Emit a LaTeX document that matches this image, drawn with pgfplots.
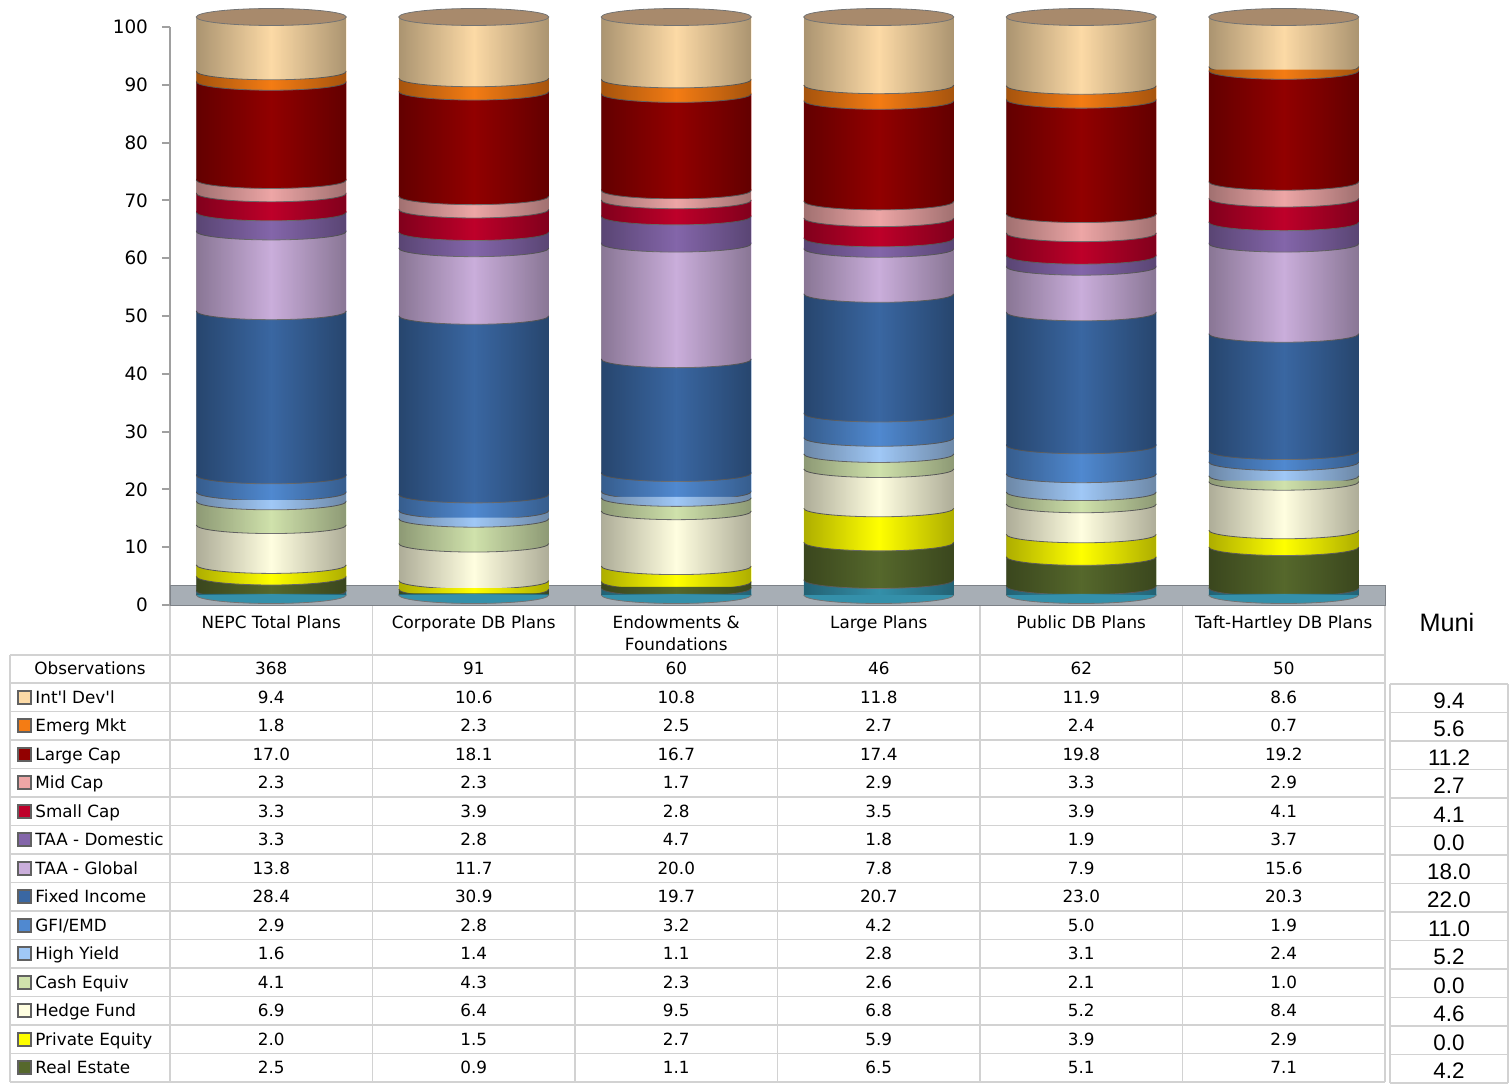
\documentclass[border=0pt]{standalone}
\usepackage{pgfplots}
\pgfplotsset{compat=1.18}
\usepackage{pgfplotstable}
\usetikzlibrary{fadings}
\usepackage{fontspec}
\setmainfont{DejaVu Sans}
\newfontfamily\arialfont{Liberation Sans}

\definecolor{cIntl}{HTML}{FCDAA6}
\definecolor{cEM}{HTML}{F47C14}
\definecolor{cLarge}{HTML}{920000}
\definecolor{cMid}{HTML}{EDA6A6}
\definecolor{cSmall}{HTML}{BE002A}
\definecolor{cTAAD}{HTML}{8466AA}
\definecolor{cTAAG}{HTML}{CAAEDB}
\definecolor{cFixed}{HTML}{3A67A2}
\definecolor{cGFI}{HTML}{5089D0}
\definecolor{cHY}{HTML}{A0C8F6}
\definecolor{cCash}{HTML}{D0E2AC}
\definecolor{cHedge}{HTML}{FFFEE0}
\definecolor{cPE}{HTML}{FFFF00}
\definecolor{cRE}{HTML}{56682C}
\definecolor{cOther}{HTML}{3490AA}
\definecolor{cCap}{HTML}{A88A6C}
\definecolor{floorgray}{HTML}{A7AEB5}
\definecolor{axisgray}{HTML}{A0A0A0}
\definecolor{gridc}{HTML}{D2D2D2}

\tikzfading[name=cylfade, left color=transparent!68, right color=transparent!68,
  middle color=transparent!100]

% lower half of an ellipse: filled slightly above its chord, only the arc stroked
\pgfdeclareplotmark{lowhalf}{%
  \pgfpathmoveto{\pgfqpoint{-\pgfplotmarksize}{5pt}}%
  \pgfpathlineto{\pgfqpoint{-\pgfplotmarksize}{0pt}}%
  \pgfpatharc{180}{360}{\pgfplotmarksize}%
  \pgfpathlineto{\pgfqpoint{\pgfplotmarksize}{5pt}}%
  \pgfpathclose
  \pgfusepathqfill
  \pgfpathmoveto{\pgfqpoint{-\pgfplotmarksize}{0pt}}%
  \pgfpatharc{180}{360}{\pgfplotmarksize}%
  \pgfusepathqstroke}

\pgfplotstableread{
x obs intl emerg large mid small taad taag fixed gfi hy cash hedge pe re other
0 368 9.4 1.8 17.0 2.3 3.3 3.3 13.8 28.4 2.9 1.6 4.1 6.9 2.0 2.5 0.7
1 91 10.6 2.3 18.1 2.3 3.9 2.8 11.7 30.9 2.8 1.4 4.3 6.4 1.5 0.9 0.1
2 60 10.8 2.5 16.7 1.7 2.8 4.7 20.0 19.7 3.2 1.1 2.3 9.5 2.7 1.1 1.2
3 46 11.8 2.7 17.4 2.9 3.5 1.8 7.8 20.7 4.2 2.8 2.6 6.8 5.9 6.5 2.6
4 62 11.9 2.4 19.8 3.3 3.9 1.9 7.9 23.0 5.0 3.1 2.1 5.2 3.9 5.1 1.5
5 50 8.6 0.7 19.2 2.9 4.1 3.7 15.6 20.3 1.9 2.4 1.0 8.4 2.9 7.1 1.2
}\datatable

\pgfplotsset{
  cyl/.style={draw=none, fill=#1},
  samebox/.style={anchor=south west, scale only axis,
    width=607.5pt, height=289pt, xmin=-0.5, xmax=5.5, ymin=0, ymax=100, clip=false},
  basebox/.style={samebox, at={(85pt,-302.5pt)}},
  cylbox/.style={samebox, at={(85pt,-297.5pt)}, hide axis},
  rimseg/.style={only marks, mark=lowhalf, mark size=37.5pt,
    mark options={yscale=0.113, fill=#1, draw=black!55, line width=0.4pt}},
  cap/.style={only marks, mark=*, mark size=37.5pt,
    mark options={yscale=0.113, fill=#1, draw=black!55, line width=0.4pt}},
}

\begin{document}
\begin{tikzpicture}
\path[use as bounding box] (0,0) rectangle (755pt,-543pt);

% background: y axis and floor
\begin{axis}[basebox,
  axis x line=none, axis y line*=left,
  y axis line style={draw=axisgray, line width=1pt},
  ytick={0,10,...,100},
  tick style={draw=axisgray, line width=1pt},
  tick align=outside, major tick length=4pt,
  yticklabel style={font=\fontsize{9.2}{11}\selectfont, text=black, xshift=-3.5pt},
  /pgf/number format/assume math mode=true]
\addplot[fill=floorgray, draw=floorgray!75!black, line width=0.5pt]
  coordinates {(-0.5,0) (5.5,0) (5.5,3.45) (-0.5,3.45)} -- cycle;
\end{axis}

% stacked cylinders
\begin{axis}[cylbox, ybar stacked, bar width=75pt]
\addplot[cyl=cOther] table[x=x,y=other]{\datatable};
\addplot[cyl=cRE]    table[x=x,y=re]{\datatable};
\addplot[cyl=cPE]    table[x=x,y=pe]{\datatable};
\addplot[cyl=cHedge] table[x=x,y=hedge]{\datatable};
\addplot[cyl=cCash]  table[x=x,y=cash]{\datatable};
\addplot[cyl=cHY]    table[x=x,y=hy]{\datatable};
\addplot[cyl=cGFI]   table[x=x,y=gfi]{\datatable};
\addplot[cyl=cFixed] table[x=x,y=fixed]{\datatable};
\addplot[cyl=cTAAG]  table[x=x,y=taag]{\datatable};
\addplot[cyl=cTAAD]  table[x=x,y=taad]{\datatable};
\addplot[cyl=cSmall] table[x=x,y=small]{\datatable};
\addplot[cyl=cMid]   table[x=x,y=mid]{\datatable};
\addplot[cyl=cLarge] table[x=x,y=large]{\datatable};
\addplot[cyl=cEM]    table[x=x,y=emerg]{\datatable};
\addplot[cyl=cIntl]  table[x=x,y=intl]{\datatable};
\end{axis}

% front rims of the segments (each at the base of its segment)
\begin{axis}[cylbox, stack plots=y]
\addplot[rimseg=cOther] table[x=x, y expr=0]{\datatable};
\addplot[rimseg=cRE]    table[x=x, y=other]{\datatable};
\addplot[rimseg=cPE]    table[x=x, y=re]{\datatable};
\addplot[rimseg=cHedge] table[x=x, y=pe]{\datatable};
\addplot[rimseg=cCash]  table[x=x, y=hedge]{\datatable};
\addplot[rimseg=cHY]    table[x=x, y=cash]{\datatable};
\addplot[rimseg=cGFI]   table[x=x, y=hy]{\datatable};
\addplot[rimseg=cFixed] table[x=x, y=gfi]{\datatable};
\addplot[rimseg=cTAAG]  table[x=x, y=fixed]{\datatable};
\addplot[rimseg=cTAAD]  table[x=x, y=taag]{\datatable};
\addplot[rimseg=cSmall] table[x=x, y=taad]{\datatable};
\addplot[rimseg=cMid]   table[x=x, y=small]{\datatable};
\addplot[rimseg=cLarge] table[x=x, y=mid]{\datatable};
\addplot[rimseg=cEM]    table[x=x, y=large]{\datatable};
\addplot[rimseg=cIntl]  table[x=x, y=emerg]{\datatable};
\end{axis}

% cylinder shading and caps
\begin{axis}[cylbox]
\pgfplotsinvokeforeach{0,...,5}{
  \addplot[ybar, bar shift=0pt, bar width=75pt, draw=none, fill=black,
    path fading=cylfade] coordinates {(#1,100)};
}
\addplot[cap=cCap] coordinates {(0,100) (1,100) (2,100) (3,100) (4,100) (5,100)};
\end{axis}

% data table
\begin{scope}[x=0.5pt, y=-0.5pt, font=\fontsize{8.4}{10}\selectfont]
  \begin{scope}[draw=gridc, line width=0.75pt]
    \draw (10,655) -- (1385,655);
    \foreach \r in {0,...,14} \draw (10,{683+28.5*\r}) -- (1385,{683+28.5*\r});
    \foreach \xx in {170,372.5,575,777.5,980,1182.5,1385} \draw (\xx,606) -- (\xx,1082);
    \draw (10,655) -- (10,1082);
    \draw (1390,684) -- (1390,1083);
    \draw (1508,684) -- (1508,1083);
    \foreach \r in {0,...,14} \draw (1390,{684+28.5*\r}) -- (1508,{684+28.5*\r});
  \end{scope}
  \node[anchor=base] at (271.25,628) {NEPC Total Plans};
  \node[anchor=base] at (473.75,628) {Corporate DB Plans};
  \node[anchor=base] at (676.25,628) {Endowments \&};
  \node[anchor=base] at (676.25,650) {Foundations};
  \node[anchor=base] at (878.75,628) {Large Plans};
  \node[anchor=base] at (1081.25,628) {Public DB Plans};
  \node[anchor=base] at (1283.75,628) {Taft-Hartley DB Plans};
  \node[anchor=base] at (90,674) {Observations};
  \foreach \c in {0,...,5} {
    \pgfplotstablegetelem{\c}{obs}\of\datatable
    \node[anchor=base] at ({271.25+202.5*\c},674) {\pgfplotsretval};
  }
  \foreach \key/\lab/\col [count=\r from 0] in {
      intl/Int\textquotesingle l Dev\textquotesingle l/cIntl,
      emerg/Emerg Mkt/cEM, large/Large Cap/cLarge, mid/Mid Cap/cMid,
      small/Small Cap/cSmall, taad/TAA - Domestic/cTAAD, taag/TAA - Global/cTAAG,
      fixed/Fixed Income/cFixed, gfi/{GFI/EMD}/cGFI, hy/High Yield/cHY,
      cash/Cash Equiv/cCash, hedge/Hedge Fund/cHedge, pe/Private Equity/cPE,
      re/Real Estate/cRE} {
    \pgfmathsetmacro\yc{697.25+28.5*\r}
    \draw[draw=black!62, line width=1pt, fill=\col] (17.5,{\yc-6.5}) rectangle (30.5,{\yc+6.5});
    \node[anchor=base west, inner sep=0pt] at (35,{\yc+6}) {\lab};
    \foreach \c in {0,...,5} {
      \pgfplotstablegetelem{\c}{\key}\of\datatable
      \node[anchor=base] at ({271.25+202.5*\c},{\yc+6}) {\pgfplotsretval};
    }
  }
  \node[anchor=base, font=\arialfont\fontsize{12.6}{14}\selectfont] at (1447,631) {Muni};
  \foreach \v [count=\r from 0] in {9.4,5.6,11.2,2.7,4.1,0.0,18.0,22.0,11.0,5.2,0.0,4.6,0.0,4.2} {
    \node[anchor=base, font=\arialfont\fontsize{11.2}{13}\selectfont] at (1449,{708+28.5*\r}) {\v};
  }
\end{scope}
\end{tikzpicture}
\end{document}
